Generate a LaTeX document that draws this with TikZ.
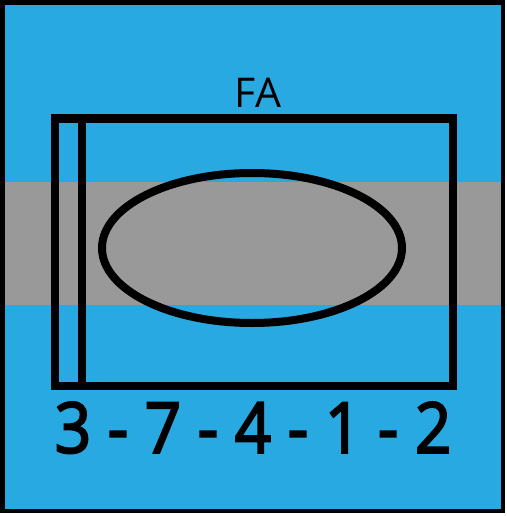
\documentclass[tikz,border=0pt]{standalone}
\usepackage{fontspec}
\setmainfont{Open Sans}
\newfontfamily\seqfont[FakeBold=3]{Open Sans}
\definecolor{skyblue}{RGB}{41,169,225}
\definecolor{bandgray}{RGB}{153,153,153}
\begin{document}
\begin{tikzpicture}[x=1pt,y=-1pt,
    frame/.style={draw=black,line width=8pt},
    label/.style={inner sep=0pt,anchor=base}]
    \useasboundingbox (0,0) rectangle (506,516);
    \fill[white] (0,0) rectangle (506,516);

    % Sfondo e banda grigia
    \filldraw[fill=skyblue,line width=4.5pt] (2.5,2.5) rectangle (503,511);
    \fill[bandgray] (4.75,182) rectangle (500.75,305);

    % Riquadro con striscia ed ellisse
    \draw[frame] (55,118.5) rectangle (452.5,386);
    \draw[frame] (82,118.5) -- (82,386);
    \draw[frame] (252,248) ellipse [x radius=150, y radius=75];

    % Testi
    \node[label] (fa) at (258,107.7) {\fontsize{41}{41}\selectfont FA};
    \node[label] (seq) at (253,452.7) {\scalebox{0.91}[1]{\fontsize{70}{70}\seqfont 3 - 7 - 4 - 1 - 2}};
\end{tikzpicture}
\end{document}
